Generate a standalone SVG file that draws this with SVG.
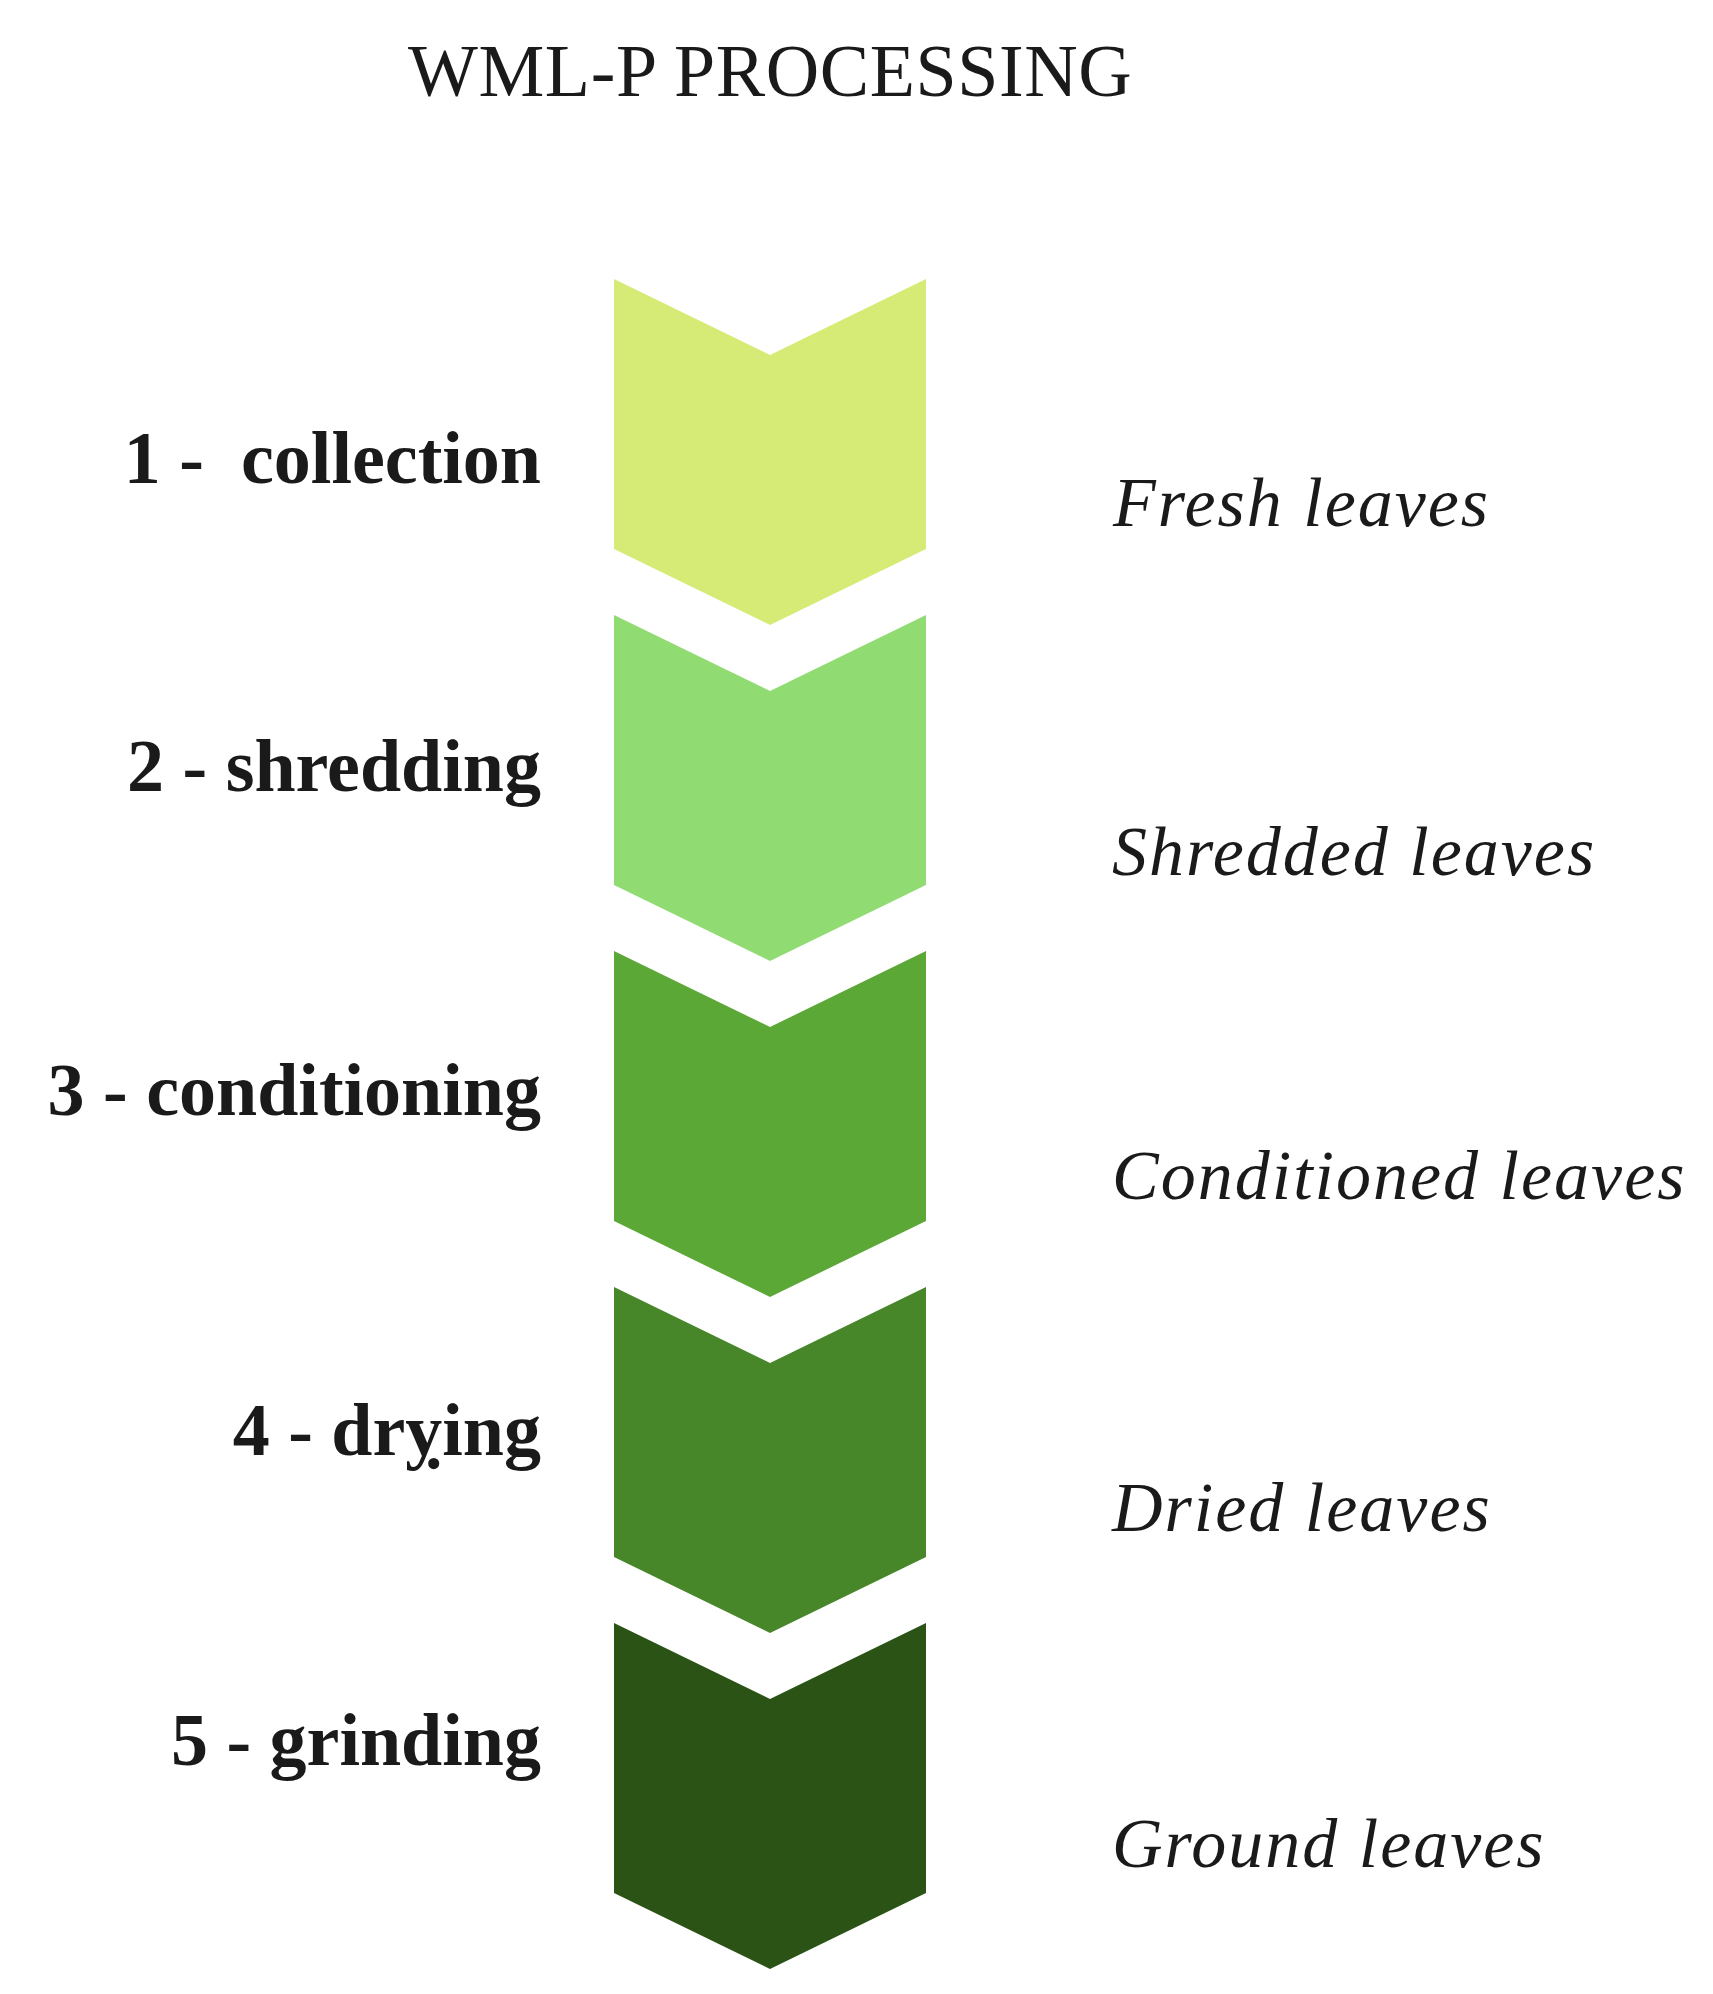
<svg xmlns="http://www.w3.org/2000/svg" width="1713" height="1994" viewBox="0 0 1713 1994">
<style>
.title{font-family:"Liberation Serif","Times New Roman",serif;font-size:74px;fill:#1a1a1a;letter-spacing:0.6px}
.step{font-family:"Liberation Serif","Times New Roman",serif;font-size:74px;font-weight:bold;fill:#1a1a1a;text-anchor:end}
.out{font-family:"Liberation Serif","Times New Roman",serif;font-size:70px;font-style:italic;fill:#1a1a1a;letter-spacing:2px}
</style>
<rect width="1713" height="1994" fill="#ffffff"/>
<text class="title" x="408" y="96">WML-P PROCESSING</text>
<g id="step1">
<polygon points="614,279 770,355 926,279 926,549 770,625 614,549" fill="#D5EB76"/>
<text class="step" x="541" y="483" xml:space="preserve">1 -  collection</text>
<text class="out" x="1113" y="526">Fresh leaves</text>
</g>
<g id="step2">
<polygon points="614,615 770,691 926,615 926,885 770,961 614,885" fill="#91DC72"/>
<text class="step" x="541" y="791">2 - shredding</text>
<text class="out" x="1112" y="875">Shredded leaves</text>
</g>
<g id="step3">
<polygon points="614,951 770,1027 926,951 926,1221 770,1297 614,1221" fill="#5CA837"/>
<text class="step" x="541" y="1115">3 - conditioning</text>
<text class="out" x="1112" y="1199">Conditioned leaves</text>
</g>
<g id="step4">
<polygon points="614,1287 770,1363 926,1287 926,1557 770,1633 614,1557" fill="#47872A"/>
<text class="step" x="541" y="1455">4 - drỵing</text>
<text class="out" x="1112" y="1531">Dried leaves</text>
</g>
<g id="step5">
<polygon points="614,1623 770,1699 926,1623 926,1893 770,1969 614,1893" fill="#2A5315"/>
<text class="step" x="541" y="1765">5 - grinding</text>
<text class="out" x="1112" y="1867">Ground leaves</text>
</g>
<g id="connectors"></g>
</svg>
